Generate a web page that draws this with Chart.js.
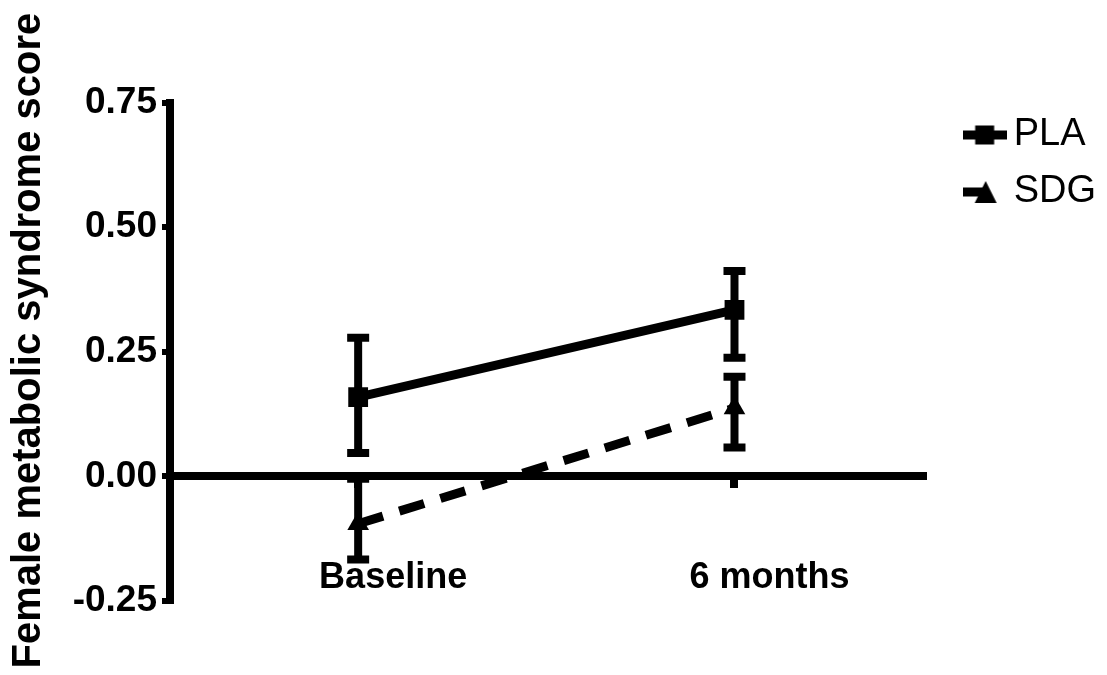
<!DOCTYPE html>
<html><head><meta charset="utf-8">
<script src="https://cdn.jsdelivr.net/npm/chart.js@4/dist/chart.umd.min.js"></script>
<style>html,body{margin:0;padding:0;background:#fff;}canvas{display:block;}</style>
</head><body>
<canvas id="c" width="1107" height="675"></canvas>
<script>
const categories = ['Baseline', '6 months'];
const plaMean = [0.159, 0.334];
const plaLow  = [0.047, 0.238];
const plaHigh = [0.278, 0.412];
const sdgMean = [-0.095, 0.137];
const sdgLow  = [-0.167, 0.058];
const sdgHigh = [-0.005, 0.200];
const yMin = -0.25, yMax = 0.75, yStep = 0.25;
const seriesNames = ['PLA', 'SDG'];
const yTitle = 'Female metabolic syndrome score';

const FONT = '"Liberation Sans", Arial, Helvetica, sans-serif';

function legendIcon(kind) {
  const c = document.createElement('canvas');
  c.width = 44; c.height = 24;
  const g = c.getContext('2d');
  g.fillStyle = '#000';
  if (kind === 'rect') {
    g.fillRect(0, 7.5, 44, 9);
    g.fillRect(12.5, 2.5, 19, 19);
  } else {
    g.fillRect(0, 7.5, 20, 9);
    g.beginPath(); g.moveTo(23, 1); g.lineTo(34, 23); g.lineTo(12, 23); g.closePath(); g.fill();
  }
  return c;
}
const icons = [legendIcon('rect'), legendIcon('triangle')];

const errorBars = {
  id: 'errorBars',
  afterDatasetsDraw(chart) {
    const ctx = chart.ctx, xs = chart.scales.x, ys = chart.scales.y;
    const sets = [[plaLow, plaHigh], [sdgLow, sdgHigh]];
    ctx.save();
    ctx.strokeStyle = '#000'; ctx.lineWidth = 8; ctx.lineCap = 'butt';
    sets.forEach(([lo, hi]) => {
      lo.forEach((l, i) => {
        const x = xs.getPixelForValue(i);
        const y1 = ys.getPixelForValue(l), y2 = ys.getPixelForValue(hi[i]);
        ctx.beginPath();
        ctx.moveTo(x, y1 + 4); ctx.lineTo(x, y2 - 4);
        ctx.moveTo(x - 11, y1); ctx.lineTo(x + 11, y1);
        ctx.moveTo(x - 11, y2); ctx.lineTo(x + 11, y2);
        ctx.stroke();
      });
    });
    ctx.restore();
  }
};

new Chart(document.getElementById('c'), {
  type: 'line',
  data: {
    labels: categories,
    datasets: [
      { label: seriesNames[0], data: plaMean, xAxisID: 'x', yAxisID: 'y',
        borderColor: '#000', backgroundColor: '#000', borderWidth: 9,
        pointStyle: 'rect', pointRadius: 14, pointBackgroundColor: '#000', pointBorderColor: '#000', pointBorderWidth: 0,
        tension: 0, fill: false },
      { label: seriesNames[1], data: sdgMean, xAxisID: 'x', yAxisID: 'y',
        borderColor: '#000', backgroundColor: '#000', borderWidth: 9, borderDash: [26, 17],
        pointStyle: 'triangle', pointRadius: 12.5, pointBackgroundColor: '#000', pointBorderColor: '#000', pointBorderWidth: 0,
        tension: 0, fill: false }
    ]
  },
  options: {
    responsive: false,
    animation: false,
    events: [],
    layout: { padding: { top: 97, bottom: 74, left: 0, right: 1 } },
    plugins: {
      tooltip: { enabled: false },
      legend: {
        position: 'right', align: 'start',
        labels: {
          usePointStyle: true, pointStyleWidth: 20, padding: 19, color: '#000',
          font: { family: FONT, size: 38, weight: 'normal' },
          generateLabels(chart) {
            const items = Chart.defaults.plugins.legend.labels.generateLabels(chart);
            items.forEach((it, i) => { it.pointStyle = icons[i]; it.lineWidth = 0; });
            return items;
          }
        }
      }
    },
    scales: {
      x: {
        type: 'category', axis: 'x', offset: true,
        position: { y: 0 },
        border: { display: true, color: '#000', width: 8 },
        grid: { display: true, drawOnChartArea: false, drawTicks: true, tickLength: 8, color: '#000', lineWidth: 8, offset: false },
        ticks: { color: '#000', font: { family: FONT, size: 36, weight: 'bold' }, padding: 72, labelOffset: 35, maxRotation: 0, autoSkip: false }
      },
      xT: {
        type: 'linear', axis: 'x', position: 'top', min: 0, max: 1,
        grid: { display: false }, border: { display: false }, ticks: { display: false },
        afterFit(s) { s.height = 5.5; }
      },
      y: {
        type: 'linear', axis: 'y', position: 'left', min: yMin, max: yMax,
        border: { display: true, color: '#000', width: 8 },
        grid: { display: true, drawOnChartArea: false, drawTicks: true, tickLength: 8, color: '#000', lineWidth: 6 },
        ticks: { stepSize: yStep, color: '#000', padding: 5, font: { family: FONT, size: 37, weight: 'bold' },
                 callback: v => Number(v).toFixed(2) },
        title: { display: true, text: '  ' + yTitle, color: '#000', padding: { top: 5, bottom: 0 },
                 font: { family: FONT, size: 40, weight: 'bold' } },
        afterFit(s) { s.width = 170; }
      },
      yR: {
        type: 'linear', axis: 'y', position: 'right', min: 0, max: 1,
        grid: { display: false }, border: { display: false }, ticks: { display: false },
        afterFit(s) { s.width = 33; }
      }
    }
  },
  plugins: [errorBars]
});
</script>
</body></html>
